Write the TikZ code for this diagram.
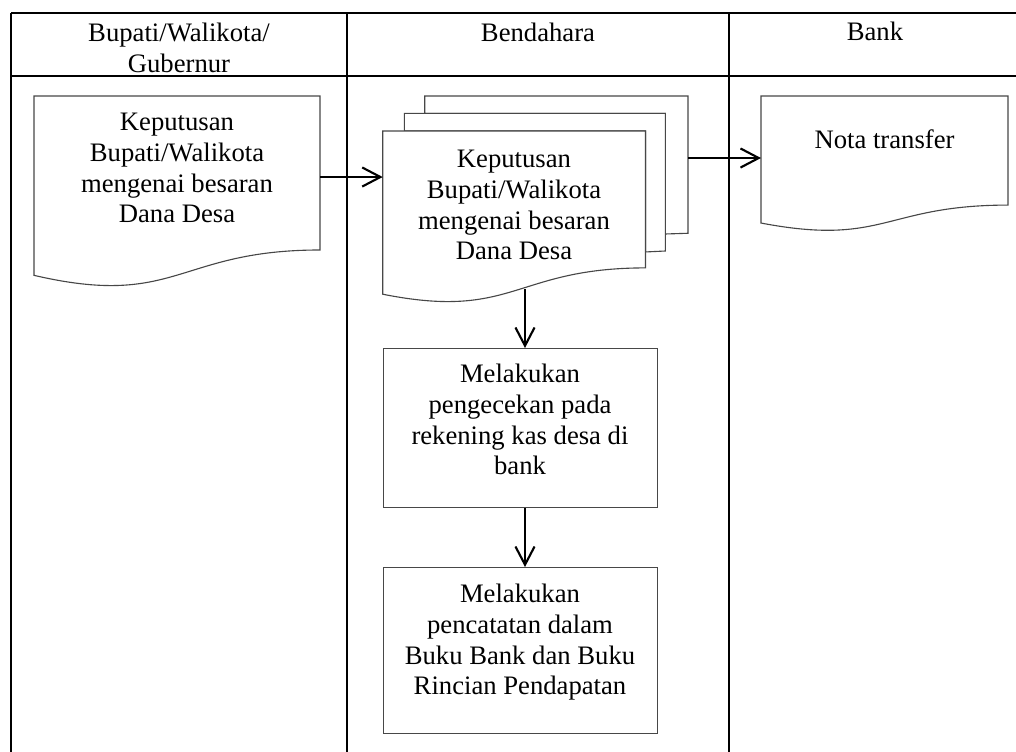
\documentclass[tikz,border=0pt]{standalone}
\usepackage{fontspec}
\setmainfont{Liberation Serif}
\usetikzlibrary{arrows.meta,calc}

% one drawing unit = one pixel of the layout grid
\newcommand\pxlen{0.45pt}

\tikzset{
  lane/.style={draw=black, line width=1.1pt},
  outline/.style={draw=black!72, line width=0.5pt, fill=white},
  txt/.style={align=center, inner sep=0pt, anchor=north,
              font=\fontsize{12pt}{13.8pt}\selectfont},
  area/.style={inner sep=0pt, outer sep=0pt, anchor=north west},
  procbox/.style={outline, inner sep=0pt, anchor=north west},
  flow/.style={line width=0.95pt, -{Straight Barb[length=8.2pt,width=8.6pt]}},
}

% flowchart "document" outline with a wavy lower edge, drawn over a named area
\newcommand\docoutline[1]{%
  \draw[outline] (#1.north west) -- (#1.north east)
    -- ($(#1.north east)!0.802!(#1.south east)$)
    .. controls ($(#1.north)!0.802!(#1.south)$) and ($(#1.north)!1.1075!(#1.south)$)
    .. ($(#1.north west)!0.934!(#1.south west)$) -- cycle;}

\begin{document}
\begin{tikzpicture}[x=\pxlen, y=-\pxlen]
\useasboundingbox (0,0) rectangle (1016,751);
\clip (0,0) rectangle (1016,751);

% swimlane table
\draw[lane] (11,13) -- (1030,13);
\draw[lane] (11,76) -- (1030,76);
\draw[lane] (11,13) -- (11,760);
\draw[lane] (347,13) -- (347,760);
\draw[lane] (729,13) -- (729,760);

\node[txt] (laneA) at (179,23) {Bupati/Walikota/\\Gubernur};
\node[txt] (laneB) at (538,22.5) {Bendahara};
\node[txt] (laneC) at (875,21.5) {Bank};

% decree issued by the regent / mayor
\node[area, minimum width=286*\pxlen, minimum height=192*\pxlen] (decree) at (34,96) {};
\docoutline{decree}
\node[txt] (decreetxt) at (177,113) {Keputusan\\Bupati/Walikota\\mengenai besaran\\Dana Desa};

% copies of the decree received by the treasurer
\node[area, minimum width=305.3*\pxlen, minimum height=206*\pxlen] (copies) at (382.7,96) {};
\begin{scope}[shift={(copies.north west)}, x=305.3*\pxlen, y=-206*\pxlen]
  \draw[outline] (0.1376,0.084) -- (0.1376,0) -- (1,0) -- (1,0.6663)
    -- (0.9259,0.6698) -- (0.9259,0.084) -- cycle;
  \draw[outline] (0.0709,0.1701) -- (0.0709,0.084) -- (0.9259,0.084)
    -- (0.9259,0.7524) -- (0.8609,0.7570) -- (0.8609,0.1701) -- cycle;
  \draw[outline] (0,0.9621) .. controls (0.4305,1.0899) and (0.4305,0.8344)
    .. (0.8609,0.8344) -- (0.8609,0.1701) -- (0,0.1701) -- cycle;
\end{scope}
\node[txt] (copiestxt) at (514,150) {Keputusan\\Bupati/Walikota\\mengenai besaran\\Dana Desa};
\coordinate (copiesdrop) at (525,289);

% transfer note from the bank
\node[area, minimum width=247*\pxlen, minimum height=136*\pxlen] (nota) at (761,96) {};
\docoutline{nota}
\node[txt] (notatxt) at (884.5,129.5) {Nota transfer};

% treasurer's processing steps
\node[procbox, minimum width=274*\pxlen, minimum height=159*\pxlen] (check) at (383,348) {};
\node[txt] (checktxt) at (520,364) {Melakukan\\pengecekan pada\\rekening kas desa di\\bank};

\node[procbox, minimum width=274*\pxlen, minimum height=166*\pxlen] (record) at (383,567) {};
\node[txt] (recordtxt) at (520,584) {Melakukan\\pencatatan dalam\\Buku Bank dan Buku\\Rincian Pendapatan};

% connectors
\draw[flow] (decree.east |- 0,177) -- (copies.west |- 0,177);
\draw[flow] (copies.east |- 0,158) -- (nota.west |- 0,158);
\draw[flow] (copiesdrop) -- (check.north -| copiesdrop);
\draw[flow] (check.south -| copiesdrop) -- (record.north -| copiesdrop);
\end{tikzpicture}
\end{document}
